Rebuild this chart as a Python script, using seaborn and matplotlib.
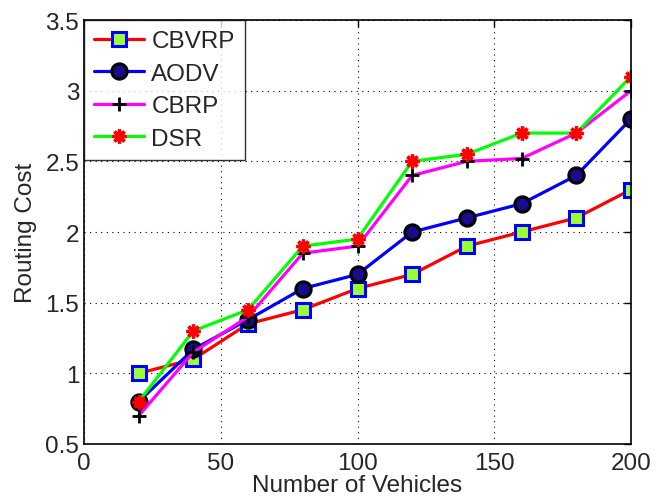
import matplotlib
matplotlib.use("Agg")
import matplotlib.pyplot as plt
import seaborn as sns
import pandas as pd

vehicles = [20, 40, 60, 80, 100, 120, 140, 160, 180, 200]
cbvrp = [1.0, 1.1, 1.35, 1.45, 1.6, 1.7, 1.9, 2.0, 2.1, 2.3]
aodv = [0.8, 1.17, 1.38, 1.6, 1.7, 2.0, 2.1, 2.2, 2.4, 2.8]
cbrp = [0.7, 1.15, 1.4, 1.85, 1.9, 2.4, 2.5, 2.52, 2.7, 3.0]
dsr = [0.8, 1.3, 1.45, 1.9, 1.95, 2.5, 2.55, 2.7, 2.7, 3.1]
x_ticks = [0, 50, 100, 150, 200]
y_ticks = [0.5, 1, 1.5, 2, 2.5, 3, 3.5]
y_tick_labels = ["0.5", "1", "1.5", "2", "2.5", "3", "3.5"]

sns.set_style("white")
plt.rcParams['font.family'] = ['Liberation Sans', 'DejaVu Sans']

FS = 17.5
fig = plt.figure(figsize=(6.55, 5.02), dpi=100)
ax = fig.add_axes([84 / 655, 57 / 502, 547 / 655, 424 / 502])

styles = [
    ("CBVRP", cbvrp, dict(color="red", marker="s", markersize=10, markerfacecolor="#99ff33",
                          markeredgecolor="blue", markeredgewidth=2.2)),
    ("AODV", aodv, dict(color="blue", marker="o", markersize=11, markerfacecolor="#1a0a8c",
                        markeredgecolor="black", markeredgewidth=2.2)),
    ("CBRP", cbrp, dict(color="magenta", marker="+", markersize=10, markeredgecolor="black",
                        markeredgewidth=2.0)),
    ("DSR", dsr, dict(color="#00ff00", marker=(8, 2, 0), markersize=10, markeredgecolor="red",
                      markerfacecolor="red", markeredgewidth=2.4)),
]
for name, vals, kw in styles:
    df = pd.DataFrame({"Number of Vehicles": vehicles, "Routing Cost": vals})
    sns.lineplot(data=df, x="Number of Vehicles", y="Routing Cost", ax=ax, label=name,
                 linewidth=2.3, **kw)

ax.set_xlim(0, 200)
ax.set_ylim(0.5, 3.5)
ax.set_xticks(x_ticks)
ax.set_xticklabels([str(t) for t in x_ticks])
ax.set_yticks(y_ticks)
ax.set_yticklabels(y_tick_labels)
ax.grid(True, linestyle=(0, (1, 4)), color="black", linewidth=0.8)
ax.tick_params(direction="in", length=5, labelsize=FS, color="black", width=1,
               top=True, right=True)
ax.tick_params(axis="x", pad=6)
ax.tick_params(axis="y", pad=3.5)
for s in ax.spines.values():
    s.set_color("black")
    s.set_linewidth(1.2)
ax.set_xlabel("Number of Vehicles", fontsize=FS, labelpad=0)
ax.set_ylabel("Routing Cost", fontsize=FS, labelpad=6)

leg = ax.legend(loc="upper left", fontsize=FS, frameon=True, fancybox=False,
                edgecolor="black", borderaxespad=0, handlelength=2.05,
                borderpad=0.42, labelspacing=0.43, handletextpad=0.3)
leg.get_frame().set_linewidth(1.0)

fig.savefig("out.png", dpi=100)
